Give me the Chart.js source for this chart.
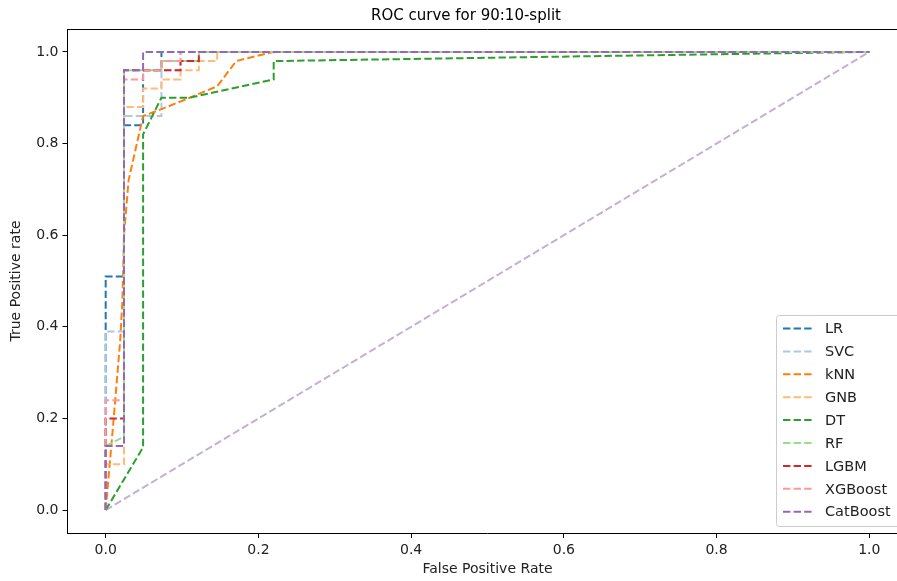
<!DOCTYPE html>
<html>
<head>
<meta charset="utf-8">
<script src="https://cdn.jsdelivr.net/npm/chart.js@4.4.1/dist/chart.umd.min.js"></script>
<style>
  html, body { margin: 0; padding: 0; background: #fff; overflow: hidden; }
  #wrap { width: 897px; height: 581px; overflow: hidden; }
</style>
</head>
<body>
<div id="wrap"><canvas id="roc-chart" width="910" height="581"></canvas></div>
<script>
const MODELS = ['LR', 'SVC', 'kNN', 'GNB', 'DT', 'RF', 'LGBM', 'XGBoost', 'CatBoost'];
const COLORS = ['#1f77b4', '#aec7e8', '#ff7f0e', '#ffbb78', '#2ca02c', '#98df8a', '#d62728', '#ff9896', '#9467bd'];
const CHANCE_COLOR = '#c5b0d5';
const TICKS = [0, 0.2, 0.4, 0.6, 0.8, 1.0];

// fpr / tpr
const LR_FPR = [0, 0, 0.024, 0.024, 0.049, 0.049, 0.073, 0.073, 1];
const LR_TPR = [0, 0.51, 0.51, 0.84, 0.84, 0.96, 0.96, 1, 1];
const SVC_FPR = [0, 0, 0.024, 0.024, 0.073, 0.073, 0.098, 0.098, 1];
const SVC_TPR = [0, 0.39, 0.39, 0.86, 0.86, 0.96, 0.96, 1, 1];
const KNN_FPR = [0, 0.01, 0.019, 0.022, 0.024, 0.03, 0.049, 0.073, 0.11, 0.146, 0.171, 0.195, 0.22, 1];
const KNN_TPR = [0, 0.19, 0.37, 0.46, 0.6, 0.72, 0.86, 0.875, 0.9, 0.925, 0.98, 0.99, 1, 1];
const GNB_FPR = [0, 0, 0.024, 0.024, 0.049, 0.049, 0.073, 0.073, 0.098, 0.098, 0.122, 0.122, 0.146, 0.146, 1];
const GNB_TPR = [0, 0.1, 0.1, 0.88, 0.88, 0.92, 0.92, 0.94, 0.94, 0.96, 0.96, 0.98, 0.98, 1, 1];
const DT_FPR = [0, 0.049, 0.049, 0.073, 0.11, 0.22, 0.22, 1];
const DT_TPR = [0, 0.137, 0.82, 0.9, 0.9, 0.94, 0.98, 1];
const RF_FPR = [0, 0, 0.024, 0.024, 0.073, 0.073, 0.122, 0.122, 1];
const RF_TPR = [0, 0.14, 0.16, 0.96, 0.96, 0.98, 0.98, 1, 1];
const LGBM_FPR = [0, 0, 0.024, 0.024, 0.098, 0.098, 0.122, 0.122, 1];
const LGBM_TPR = [0, 0.2, 0.2, 0.96, 0.96, 0.98, 0.98, 1, 1];
const XGB_FPR = [0, 0, 0.024, 0.024, 0.049, 0.049, 0.073, 0.073, 0.098, 0.098, 1];
const XGB_TPR = [0, 0.24, 0.24, 0.94, 0.94, 0.96, 0.96, 0.98, 0.98, 1, 1];
const CAT_FPR = [0, 0, 0.024, 0.024, 0.049, 0.049, 1];
const CAT_TPR = [0, 0.14, 0.14, 0.96, 0.96, 1, 1];
const CHANCE_FPR = [0, 1];
const CHANCE_TPR = [0, 1];

const CURVES = [
  [LR_FPR, LR_TPR], [SVC_FPR, SVC_TPR], [KNN_FPR, KNN_TPR], [GNB_FPR, GNB_TPR],
  [DT_FPR, DT_TPR], [RF_FPR, RF_TPR], [LGBM_FPR, LGBM_TPR], [XGB_FPR, XGB_TPR], [CAT_FPR, CAT_TPR],
];

const FONT = 'DejaVu Sans';
const DASH = [7.4, 3.2];

const toPoints = (xs, ys) => xs.map((x, i) => ({ x, y: ys[i] }));

const datasets = CURVES.map(([fpr, tpr], i) => ({
  label: MODELS[i],
  data: toPoints(fpr, tpr),
  borderColor: COLORS[i],
  borderWidth: 2,
  borderDash: DASH,
  order: -i, // later models on top, like matplotlib
}));
datasets.push({
  label: 'chance',
  data: toPoints(CHANCE_FPR, CHANCE_TPR),
  borderColor: CHANCE_COLOR,
  borderWidth: 2,
  borderDash: DASH,
  order: 10,
});

// top / right spines and the title
const frame = {
  id: 'frame',
  afterDatasetsDraw(chart) {
    const { ctx, chartArea: a } = chart;
    ctx.save();
    ctx.strokeStyle = '#000';
    ctx.lineWidth = 1;
    ctx.beginPath();
    ctx.moveTo(a.left, a.top + 0.5);
    ctx.lineTo(a.right, a.top + 0.5);
    ctx.lineTo(a.right, a.bottom);
    ctx.stroke();
    ctx.fillStyle = '#000';
    ctx.font = `15px "${FONT}"`;
    ctx.textAlign = 'center';
    ctx.textBaseline = 'alphabetic';
    ctx.fillText('ROC curve for 90:10-split', 466, 20);
    ctx.restore();
  },
};

// legend inside the axes, lower right
const insideLegend = {
  id: 'insideLegend',
  afterDraw(chart) {
    const { ctx } = chart;
    const left = 776, top = 315, right = 901, bottom = 526, rowH = 22.9;
    ctx.save();
    ctx.beginPath();
    ctx.roundRect(left + 0.5, top + 0.5, right - left, bottom - top, 3);
    ctx.fillStyle = 'rgba(255,255,255,0.8)';
    ctx.fill();
    ctx.strokeStyle = '#cccccc';
    ctx.lineWidth = 1;
    ctx.stroke();
    ctx.font = `14.5px "${FONT}"`;
    ctx.textBaseline = 'middle';
    ctx.textAlign = 'left';
    MODELS.forEach((name, i) => {
      const y = top + 13.5 + i * rowH;
      ctx.beginPath();
      ctx.setLineDash(DASH);
      ctx.strokeStyle = COLORS[i];
      ctx.lineWidth = 2;
      ctx.moveTo(783, y);
      ctx.lineTo(814, y);
      ctx.stroke();
      ctx.setLineDash([]);
      ctx.fillStyle = '#222';
      ctx.fillText(name, 825, y + 1);
    });
    ctx.restore();
  },
};

const fixedTicks = (axis) => { axis.ticks = TICKS.map((v) => ({ value: v })); };
const tickStyle = {
  color: '#222',
  font: { family: FONT, size: 14 },
  padding: 4,
  callback: (v) => v.toFixed(1),
};
const gridStyle = { display: true, drawOnChartArea: false, drawTicks: true, tickLength: 5, color: '#000' };

new Chart(document.getElementById('roc-chart'), {
  type: 'line',
  data: { datasets },
  plugins: [frame, insideLegend],
  options: {
    responsive: false,
    animation: false,
    layout: { padding: { top: 29, right: 2.5, left: 0, bottom: 0 } },
    elements: { point: { radius: 0 }, line: { tension: 0 } },
    plugins: { legend: { display: false }, title: { display: false }, tooltip: { enabled: false } },
    scales: {
      x: {
        type: 'linear',
        min: -0.05,
        max: 1.05,
        afterBuildTicks: fixedTicks,
        afterFit: (s) => { s.height = 48; },
        ticks: { ...tickStyle, maxRotation: 0 },
        grid: gridStyle,
        border: { display: true, color: '#000', width: 1 },
        title: { display: true, text: 'False Positive Rate', color: '#222', font: { family: FONT, size: 14 }, padding: { top: 0, bottom: 3 } },
      },
      y: {
        type: 'linear',
        min: -0.05,
        max: 1.05,
        afterBuildTicks: fixedTicks,
        afterFit: (s) => { s.width = 67.5; },
        ticks: tickStyle,
        grid: gridStyle,
        border: { display: true, color: '#000', width: 1 },
        title: { display: true, text: 'True Positive rate', color: '#222', font: { family: FONT, size: 14 }, padding: { top: 8, bottom: 0 } },
      },
    },
  },
});
</script>
</body>
</html>
